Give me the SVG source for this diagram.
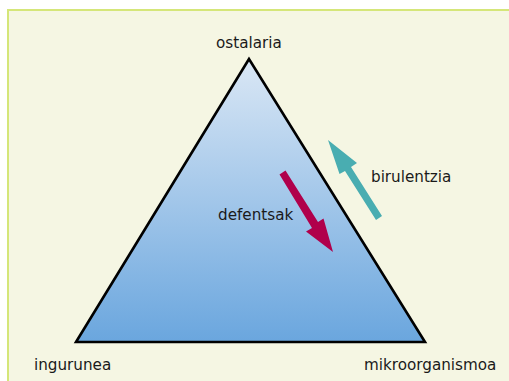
<svg xmlns="http://www.w3.org/2000/svg" width="509" height="381" viewBox="0 0 509 381">
<defs>
<linearGradient id="tri" x1="0" y1="0" x2="0" y2="1">
<stop offset="0" stop-color="#dae7f5"/>
<stop offset="1" stop-color="#6aa6de"/>
</linearGradient>
<style>
text{font-family:"DejaVu Sans",sans-serif;font-size:15.2px;fill:#1a1a1a}
</style>
</defs>
<rect x="8" y="10" width="510" height="380" fill="#f5f6e3" stroke="#d5e679" stroke-width="2"/>
<g id="triangle">
<polygon points="249,59 76,342 425,342" fill="url(#tri)" stroke="#000" stroke-width="2.6" stroke-linejoin="miter"/>
</g>
<g id="connectors">
<polygon points="279.5,174.5 285.5,170.5 318,222 323.5,218.5 333,252 306,231.5 312,228" fill="#b0004b"/>
<polygon points="328,140 357,163 351,167 382,216 376,220 345,171 339.5,174" fill="#49adb1"/>
</g>
<g id="n-ostalaria"><text x="216" y="48">ostalaria</text></g>
<g id="n-defentsak"><text x="218" y="220">defentsak</text></g>
<g id="n-birulentzia"><text x="371" y="182">birulentzia</text></g>
<g id="n-ingurunea"><text x="34" y="370">ingurunea</text></g>
<g id="n-mikroorganismoa"><text x="364" y="370">mikroorganismoa</text></g>
</svg>
